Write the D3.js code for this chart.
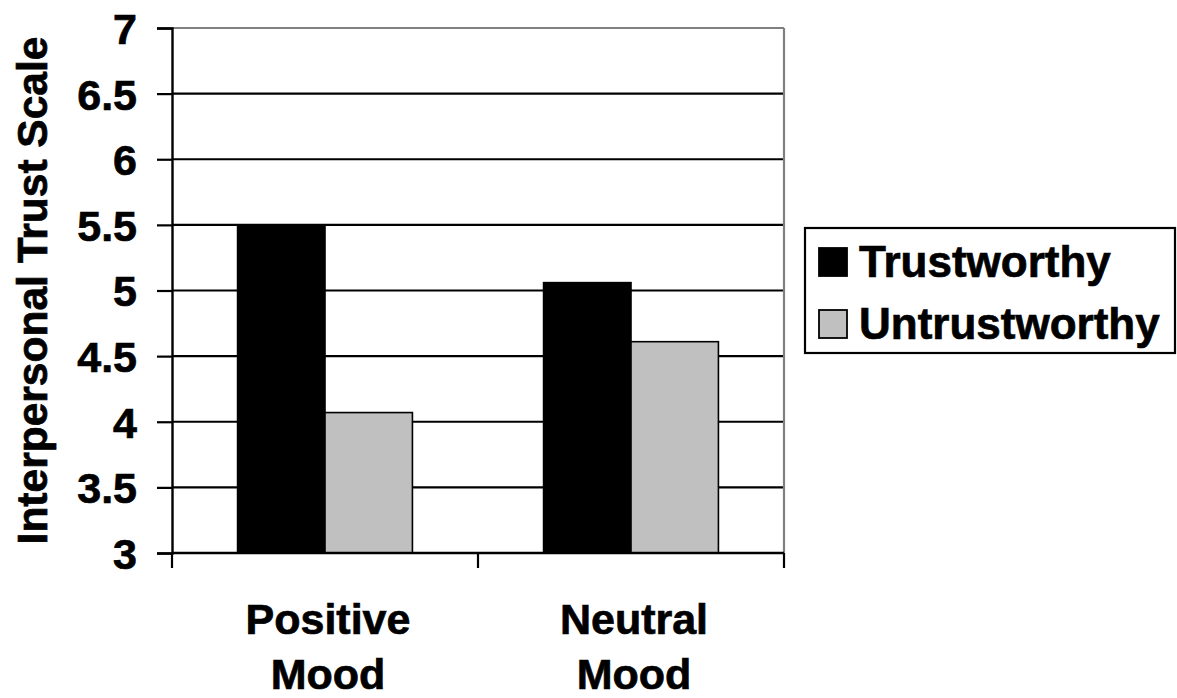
<!DOCTYPE html>
<html>
<head>
<meta charset="utf-8">
<script src="https://cdn.jsdelivr.net/npm/d3@7"></script>
<style>
  html, body { margin: 0; padding: 0; background: #fff; }
  svg { display: block; }
  text { font-family: "Liberation Sans", Arial, sans-serif; font-weight: bold; fill: #000;
         stroke: #000; stroke-width: 0.7px; }
</style>
</head>
<body>
<svg id="chart" width="1177" height="698"></svg>
<script>
// Mean interpersonal trust by mood condition and partner type
const moods = ["Positive Mood", "Neutral Mood"];
const seriesNames = ["Trustworthy", "Untrustworthy"];
const trustworthy = [5.5, 5.06];
const untrustworthy = [4.07, 4.61];
const yTicks = [3, 3.5, 4, 4.5, 5, 5.5, 6, 6.5, 7];
const seriesColors = ["#000000", "#c0c0c0"];

const svg = d3.select("#chart");
const plot = { left: 172, right: 784, top: 28, bottom: 553 };

const x = d3.scaleBand().domain(moods).range([plot.left, plot.right]).paddingInner(0).paddingOuter(0);
const inner = d3.scaleBand().domain(seriesNames).range([0, x.bandwidth()]).paddingInner(0).paddingOuter(0.75);
const y = d3.scaleLinear().domain([3, 7]).range([plot.bottom, plot.top]);

// Horizontal gridlines
svg.append("g").selectAll("line")
  .data(yTicks.filter(t => t > 3))
  .join("line")
  .attr("x1", plot.left).attr("x2", plot.right)
  .attr("y1", d => y(d)).attr("y2", d => y(d))
  .attr("stroke", d => d === 7 ? "#808080" : "#000")
  .attr("stroke-width", 2.2);

// Right border of the plot area
svg.append("line")
  .attr("x1", plot.right).attr("x2", plot.right)
  .attr("y1", plot.top).attr("y2", plot.bottom)
  .attr("stroke", "#808080").attr("stroke-width", 2.2);

// Bars
const rows = moods.map((m, i) => ({ mood: m, values: [trustworthy[i], untrustworthy[i]] }));
const groups = svg.append("g").selectAll("g")
  .data(rows).join("g")
  .attr("transform", d => `translate(${x(d.mood)},0)`);
groups.selectAll("rect")
  .data(d => d.values.map((v, j) => ({ name: seriesNames[j], value: v, color: seriesColors[j] })))
  .join("rect")
  .attr("x", d => inner(d.name))
  .attr("width", inner.bandwidth())
  .attr("y", d => y(d.value))
  .attr("height", d => y(3) - y(d.value))
  .attr("fill", d => d.color)
  .attr("stroke", "#000")
  .attr("stroke-width", 1.6);

// Y axis
const yAxis = d3.axisLeft(y).tickValues(yTicks).tickSize(15).tickPadding(20)
  .tickFormat(d => String(d));
const gy = svg.append("g").attr("transform", `translate(${plot.left},0)`).call(yAxis);
gy.select(".domain").attr("stroke", "#000").attr("stroke-width", 2.4);
gy.selectAll(".tick line").attr("stroke", "#000").attr("stroke-width", 2.2);
gy.selectAll(".tick text").style("font-size", "43px").attr("dy", "0.36em");

// X axis: domain line and boundary ticks between categories
const gx = svg.append("g");
gx.append("line")
  .attr("x1", plot.left).attr("x2", plot.right)
  .attr("y1", plot.bottom).attr("y2", plot.bottom)
  .attr("stroke", "#000").attr("stroke-width", 2.4);
const boundaries = moods.map(m => x(m)).concat([x(moods[moods.length - 1]) + x.bandwidth()]);
gx.selectAll("line.tk").data(boundaries).join("line").attr("class", "tk")
  .attr("x1", d => d).attr("x2", d => d)
  .attr("y1", plot.bottom).attr("y2", plot.bottom + 15)
  .attr("stroke", "#000").attr("stroke-width", 2.2);

// Category labels on two lines
const lab = gx.selectAll("text.cat").data(moods).join("text").attr("class", "cat")
  .attr("text-anchor", "middle")
  .style("font-size", "43px");
lab.each(function(d) {
  const words = d.split(" ");
  const t = d3.select(this);
  words.forEach((w, k) => {
    t.append("tspan")
      .attr("x", x(d) + x.bandwidth() / 2 + 3)
      .attr("y", 634 + k * 55)
      .text(w);
  });
});

// Y axis title
svg.append("text")
  .attr("transform", `translate(47,${(plot.top + plot.bottom) / 2}) rotate(-90)`)
  .attr("text-anchor", "middle")
  .style("font-size", "42.5px")
  .text("Interpersonal Trust Scale");

// Legend
const legend = svg.append("g");
legend.append("rect")
  .attr("x", 805).attr("y", 228).attr("width", 370).attr("height", 125)
  .attr("fill", "#fff").attr("stroke", "#000").attr("stroke-width", 2.2);
const items = legend.selectAll("g.item").data(seriesNames).join("g").attr("class", "item")
  .attr("transform", (d, i) => `translate(0,${i * 62})`);
items.append("rect")
  .attr("x", 819).attr("y", 248).attr("width", 28).attr("height", 28)
  .attr("fill", (d, i) => seriesColors[i])
  .attr("stroke", "#000").attr("stroke-width", 1.8);
items.append("text")
  .attr("x", 859).attr("y", 277)
  .style("font-size", "44px")
  .text(d => d);
</script>
</body>
</html>
